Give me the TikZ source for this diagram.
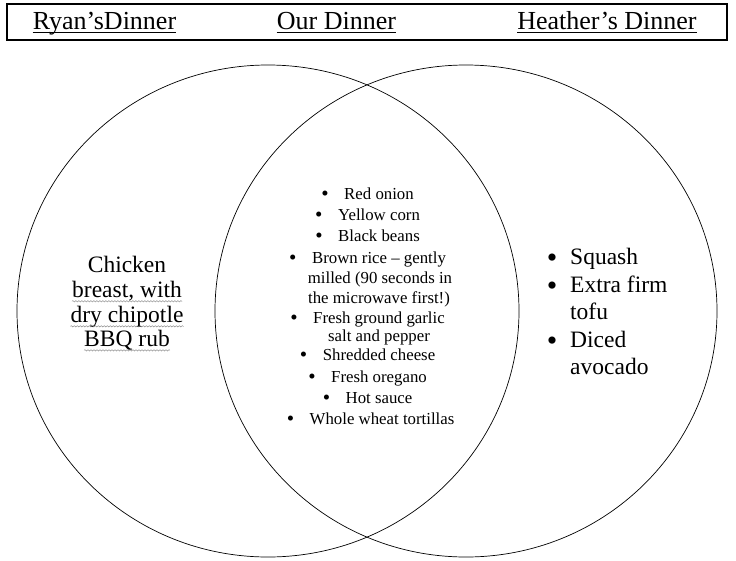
\documentclass[tikz,border=0pt]{standalone}
\usepackage{fontspec}
\setmainfont{Liberation Serif}
\usetikzlibrary{shapes.geometric,decorations.pathmorphing}
\begin{document}
\begin{tikzpicture}[x=1pt,y=-1pt,
  ring/.style={draw,ellipse,minimum width=502pt,minimum height=492pt,inner sep=0pt,line width=0.7pt},
  ttl/.style={font=\fontsize{26}{30}\selectfont,inner sep=0pt,anchor=base},
  mid/.style={font=\fontsize{16.8}{19}\selectfont,inner sep=0pt,anchor=mid},
  midbul/.style={font=\fontsize{21}{22}\selectfont,inner sep=0pt,anchor=center},
  big/.style={font=\fontsize{23.5}{28}\selectfont,inner sep=0pt,anchor=mid},
  bigw/.style={big,anchor=mid west},
  bigbul/.style={font=\fontsize{30}{30}\selectfont,inner sep=0pt,anchor=center},
  squig/.style={draw=gray,decorate,decoration={snake,amplitude=0.7pt,segment length=3pt},line width=0.4pt},
  uline/.style={draw,line width=0.8pt}
]
\useasboundingbox (0,0) rectangle (736,560);
\fill[white] (0,0) rectangle (736,560);

% title box
\node[draw,line width=1.1pt,minimum width=720pt,minimum height=36pt,inner sep=0pt] (box) at (367,22) {};
\node[ttl] (h1) at (104.5,29) {Ryan’sDinner};
\node[ttl] (h2) at (336.5,29) {Our Dinner};
\node[ttl] (h3) at (607,29) {Heather’s Dinner};
\foreach \h in {h1,h2,h3}
  \draw[uline] ([yshift=-3pt]\h.base west) -- ([yshift=-3pt]\h.base east);

% circles
\node[ring] (L) at (268,311) {};
\node[ring] (R) at (466,311) {};

% left text
\node[big] (c1) at (127,270) {Chicken};
\node[big] (c2) at (127,295) {breast, with};
\node[big] (c3) at (127,320) {dry chipotle};
\node[big] (c4) at (127,344) {BBQ rub};
\foreach \c in {c2,c3,c4}
  \draw[squig] ([yshift=-4pt]\c.base west) -- ([yshift=-4pt]\c.base east);

% centre list
\node[mid] (t1) at (379,197) {Red onion};
\node[mid] (t2) at (379,218) {Yellow corn};
\node[mid] (t3) at (379,239) {Black beans};
\node[mid] (t4a) at (379,261) {Brown rice – gently};
\node[mid] (t4b) at (380,281) {milled (90 seconds in};
\node[mid] (t4c) at (379,301) {the microwave first!)};
\node[mid] (t5a) at (379,321) {Fresh ground garlic};
\node[mid] (t5b) at (379,339) {salt and pepper};
\node[mid] (t6) at (379,358) {Shredded cheese};
\node[mid] (t7) at (379,380) {Fresh oregano};
\node[mid] (t8) at (379,401) {Hot sauce};
\node[mid] (t9) at (382,422) {Whole wheat tortillas};
\foreach \t in {t1,t2,t3,t4a,t5a,t6,t7,t8,t9}
  \node[midbul] (b\t) at ([xshift=-19pt,yshift=1pt]\t.mid west) {•};

% right list
\node[bigw] (r1) at (570,262) {Squash};
\node[bigw] (r2a) at (570,290) {Extra firm};
\node[bigw] (r2b) at (570,317) {tofu};
\node[bigw] (r3a) at (570,345) {Diced};
\node[bigw] (r3b) at (570,372) {avocado};
\foreach \r in {r1,r2a,r3a}
  \node[bigbul] (b\r) at ([xshift=-18pt,yshift=1pt]\r.mid west) {•};
\end{tikzpicture}
\end{document}
